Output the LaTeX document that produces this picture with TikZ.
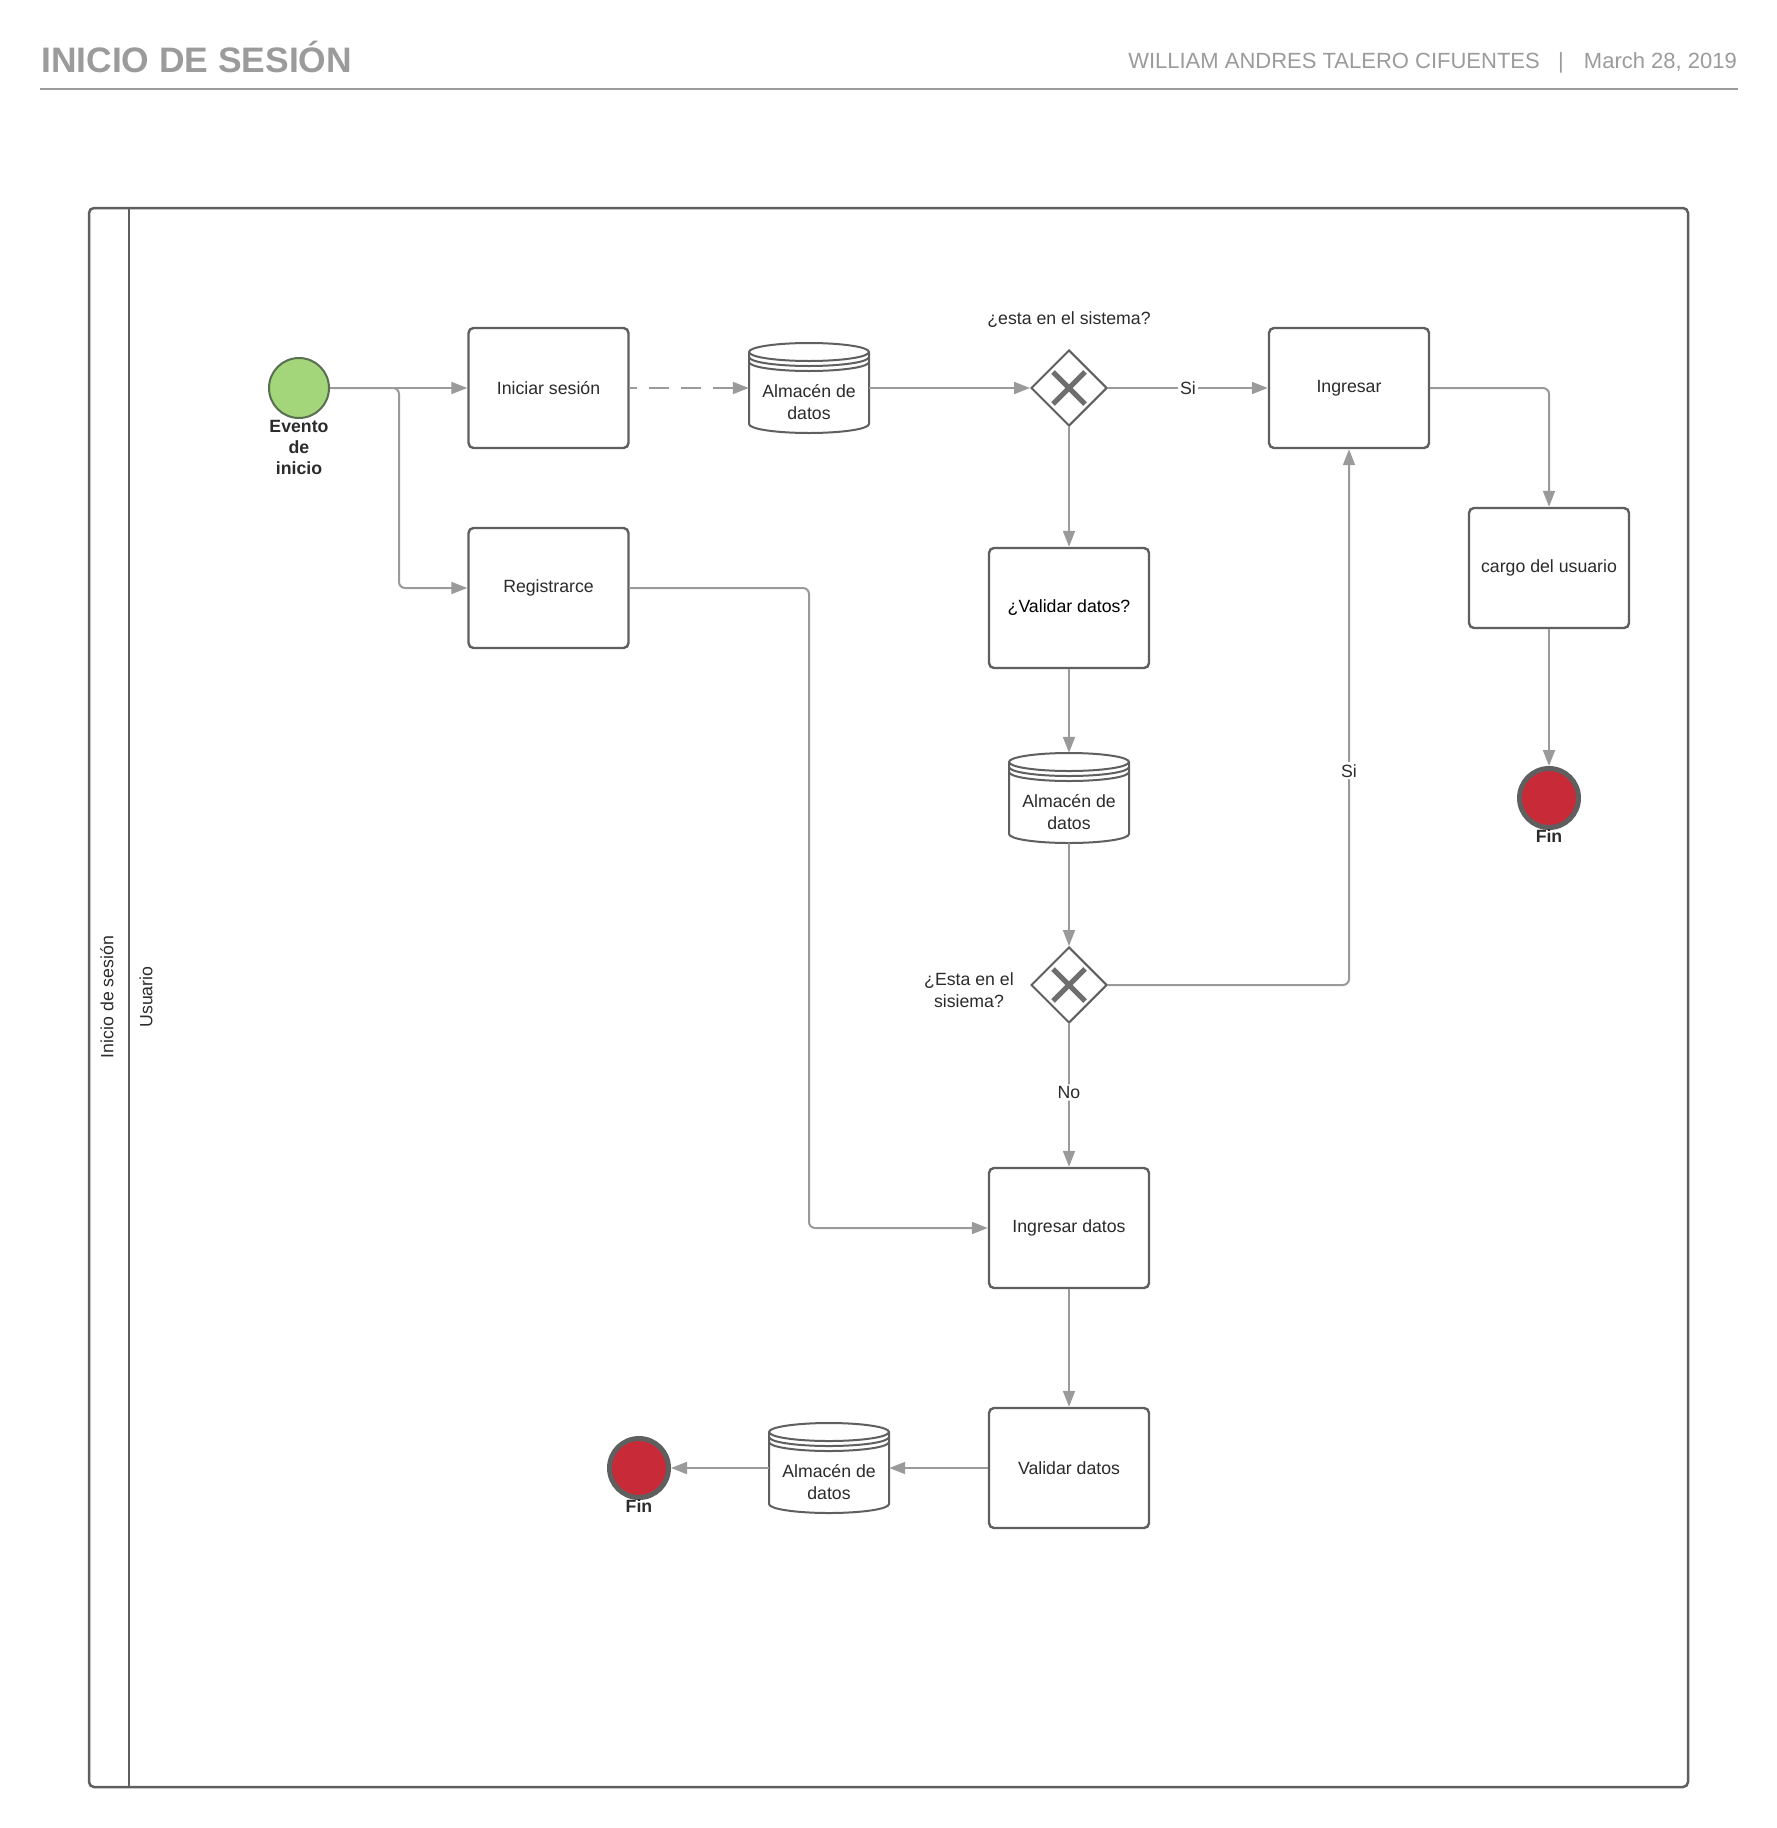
\documentclass[tikz,border=0pt]{standalone}
\usepackage{fontspec}
\setmainfont{Liberation Sans}
\usetikzlibrary{arrows.meta,shapes.geometric}

\definecolor{ink}{HTML}{2B2B2B}
\definecolor{hdr}{HTML}{9B9B9B}
\definecolor{edge}{HTML}{5F5F5F}
\definecolor{flow}{HTML}{9A9A9A}
\definecolor{cross}{HTML}{6E6E6E}
\definecolor{startfill}{HTML}{A3D67A}
\definecolor{startedge}{HTML}{5A6E50}
\definecolor{endfill}{HTML}{C92A38}

% data store: cylinder body with three rims, then an invisible node and its text
\newcommand\datastore[3]{%
  \begin{scope}[shift={(#2,#3)}, draw=edge, line width=2pt]
    \filldraw[fill=white] (-60,36) -- (-60,-36)
      arc[start angle=180, end angle=360, x radius=60, y radius=9] -- (60,36)
      arc[start angle=0, end angle=180, x radius=60, y radius=9] -- cycle;
    \draw (-60,36) arc[start angle=180, end angle=360, x radius=60, y radius=9];
    \draw (-60,31) arc[start angle=180, end angle=360, x radius=60, y radius=9];
    \draw (-60,26) arc[start angle=180, end angle=360, x radius=60, y radius=9];
  \end{scope}
  \node[store] (#1) at (#2,#3) {};
  \node[align=center] (#1-text) at ([yshift=-14pt]#1.center) {Almacén de\\datos};
}

\begin{document}
\begin{tikzpicture}[x=1pt, y=1pt,
  every node/.style={font=\fontsize{17.7}{21.5}\selectfont, text=ink},
  bold/.style={font=\fontsize{17.7}{21}\selectfont\bfseries},
  task/.style={draw=edge, line width=2.4pt, fill=white, rounded corners=5pt,
    minimum width=160pt, minimum height=120pt, inner sep=0pt, align=center},
  store/.style={minimum width=120pt, minimum height=90pt, inner sep=0pt},
  gate/.style={diamond, aspect=1, draw=edge, line width=2pt, fill=white,
    minimum width=76pt, minimum height=76pt, inner sep=0pt,
    path picture={\draw[cross, line width=5pt]
      ([shift={(-16pt,-16pt)}]path picture bounding box.center) -- ++(32pt,32pt)
      ([shift={(-16pt,16pt)}]path picture bounding box.center) -- ++(32pt,-32pt);}},
  startev/.style={circle, draw=startedge, line width=2pt, fill=startfill,
    minimum size=60pt, inner sep=0pt},
  endev/.style={circle, draw=edge, line width=5pt, fill=endfill,
    minimum size=59pt, inner sep=0pt},
  flowline/.style={draw=flow, line width=2pt, rounded corners=6pt,
    -{Triangle[length=16pt, width=12pt]}},
  lbl/.style={fill=white, inner sep=2pt},
  hdrtext/.style={anchor=base east, inner sep=0pt,
    font=\fontsize{22}{26}\selectfont, text=hdr}]

\useasboundingbox (0,0) rectangle (1777,-1828);

% header
\node (title) [anchor=base west, inner sep=0pt,
  font=\fontsize{35.4}{40}\selectfont\bfseries, text=hdr] at (41,-72) {INICIO DE SESIÓN};
\node (author) [hdrtext] at (1540,-69) {WILLIAM ANDRES TALERO CIFUENTES};
\node (sep) [hdrtext, anchor=base] at (1561,-69) {|};
\node (date) [hdrtext] at (1737,-69) {March 28, 2019};
\draw[hdr, line width=2.5pt] (40,-89) -- (1738,-89);

% pool and lane
\draw[edge, line width=2.5pt, rounded corners=5pt] (89,-208) rectangle (1688,-1787);
\draw[edge, line width=2.5pt] (129,-208) -- (129,-1787);
\node[rotate=90] (pool) at (107,-997) {Inicio de sesión};
\node[rotate=90] (lane) at (146,-997) {Usuario};

% events
\node[startev] (start) at (299,-388) {};
\node[bold, align=center, anchor=north, inner sep=0pt] (start-text) at (299,-420) {Evento\\de\\inicio};
\node[endev] (end1) at (1549,-798) {};
\node[bold, anchor=north, inner sep=0pt] (end1-text) at (1549,-829) {Fin};
\node[endev] (end2) at (639,-1468) {};
\node[bold, anchor=north, inner sep=0pt] (end2-text) at (639,-1499) {Fin};

% tasks
\node[task] (login) at (548.5,-388) {Iniciar sesión};
\node[task] (register) at (548.5,-588) {Registrarce};
\node[task] (enter) at (1349,-388) {Ingresar};
\node[task] (role) at (1549,-568) {cargo del usuario};
\node[task, text=black] (check) at (1069,-608) {¿Validar datos?};
\node[task] (input) at (1069,-1228) {Ingresar datos};
\node[task] (validate) at (1069,-1468) {Validar datos};

% data stores
\datastore{ds1}{809}{-388}
\datastore{ds2}{1069}{-798}
\datastore{ds3}{829}{-1468}

% gateways
\node[gate] (gw1) at (1069,-388) {};
\node (gw1-text) at (1069,-319.5) {¿esta en el sistema?};
\node[gate] (gw2) at (1069,-985) {};
\node[align=center] (gw2-text) at (969,-990) {¿Esta en el\\sisiema?};

% sequence flows
\draw[flowline] (start) -- (login);
\draw[flowline] (start.east) -- (399,-388) |- (register.west);
\draw[flowline, dash pattern=on 20pt off 12pt, dash phase=13pt] (login) -- (ds1);
\draw[flowline] (ds1) -- (gw1);
\draw[flowline] (gw1) -- node[lbl] (si1) {Si} (enter);
\draw[flowline] (gw1) -- (check);
\draw[flowline] (enter.east) -| (role.north);
\draw[flowline] (role) -- (end1);
\draw[flowline] (check) -- (ds2);
\draw[flowline] (ds2) -- (gw2);
\draw[flowline] (gw2.east) -| node[lbl, pos=0.7] (si2) {Si} (enter.south);
\draw[flowline] (gw2) -- node[lbl, pos=0.48] (no) {No} (input);
\draw[flowline] (register.east) -- (809,-588) |- (input.west);
\draw[flowline] (input) -- (validate);
\draw[flowline] (validate) -- (ds3);
\draw[flowline] (ds3) -- (end2);

\end{tikzpicture}
\end{document}
